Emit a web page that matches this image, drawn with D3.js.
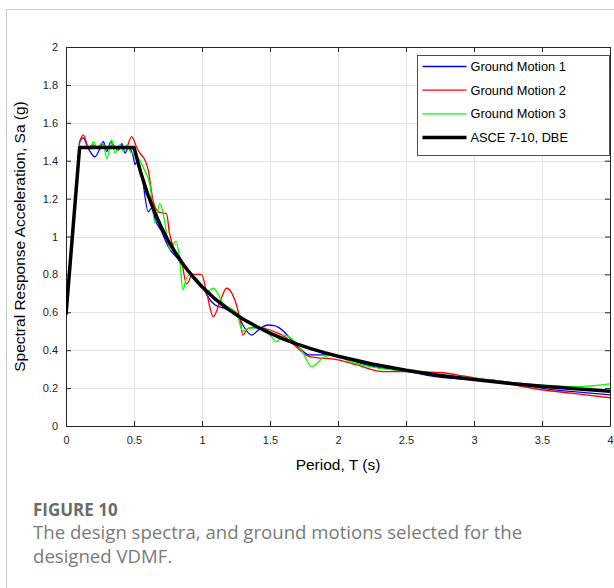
<!DOCTYPE html>
<html>
<head>
<meta charset="utf-8">
<script src="https://cdn.jsdelivr.net/npm/d3@7"></script>
<style>
  body { margin: 0; background: #fff; }
  svg { display: block; }
</style>
</head>
<body>
<script>
// values (period in s, Sa in g)
const gm1Period = [0, 0.1, 0.127, 0.164, 0.213, 0.25, 0.275, 0.3, 0.33, 0.348, 0.385, 0.41, 0.434, 0.46, 0.495, 0.507, 0.525, 0.556, 0.605, 0.63, 0.66, 0.7, 0.74, 0.765, 0.8, 0.85, 0.9, 0.95, 1.0, 1.06, 1.095, 1.15, 1.2, 1.255, 1.3, 1.365, 1.42, 1.485, 1.53, 1.6, 1.65, 1.72, 1.79, 1.92, 2.0, 2.15, 2.33, 2.5, 2.7, 2.87, 3.12, 3.3, 3.51, 3.75, 4.0];
const gm1Sa = [0.59, 1.5, 1.52, 1.465, 1.42, 1.465, 1.5, 1.448, 1.5, 1.483, 1.456, 1.49, 1.44, 1.47, 1.42, 1.38, 1.4, 1.33, 1.13, 1.15, 1.08, 1.03, 0.964, 0.93, 0.9, 0.86, 0.82, 0.78, 0.74, 0.665, 0.64, 0.625, 0.61, 0.595, 0.533, 0.48, 0.51, 0.533, 0.53, 0.5, 0.46, 0.41, 0.375, 0.375, 0.37, 0.335, 0.304, 0.29, 0.262, 0.25, 0.243, 0.225, 0.199, 0.18, 0.164];

const gm2Period = [0, 0.1, 0.127, 0.164, 0.2, 0.237, 0.26, 0.3, 0.33, 0.37, 0.4, 0.44, 0.483, 0.52, 0.544, 0.58, 0.605, 0.64, 0.68, 0.71, 0.74, 0.76, 0.79, 0.85, 0.887, 0.93, 0.985, 1.0, 1.035, 1.083, 1.13, 1.18, 1.22, 1.28, 1.3, 1.34, 1.4, 1.525, 1.62, 1.65, 1.72, 1.79, 2.01, 2.14, 2.33, 2.5, 2.77, 2.92, 3.17, 3.51, 3.73, 4.0];
const gm2Sa = [0.59, 1.5, 1.536, 1.474, 1.483, 1.465, 1.49, 1.47, 1.48, 1.47, 1.48, 1.465, 1.527, 1.47, 1.44, 1.404, 1.35, 1.19, 1.13, 1.125, 1.12, 1.02, 0.946, 0.867, 0.75, 0.8, 0.8, 0.797, 0.7, 0.577, 0.65, 0.727, 0.7, 0.56, 0.48, 0.515, 0.52, 0.5, 0.465, 0.445, 0.4, 0.366, 0.348, 0.322, 0.287, 0.287, 0.281, 0.264, 0.234, 0.19, 0.172, 0.149];

const gm3Period = [0, 0.1, 0.127, 0.15, 0.18, 0.2, 0.23, 0.26, 0.275, 0.3, 0.336, 0.36, 0.397, 0.422, 0.446, 0.47, 0.507, 0.544, 0.57, 0.618, 0.654, 0.69, 0.72, 0.765, 0.81, 0.835, 0.86, 0.885, 0.91, 0.96, 1.0, 1.04, 1.083, 1.157, 1.255, 1.3, 1.35, 1.43, 1.5, 1.55, 1.6, 1.67, 1.74, 1.806, 1.89, 1.97, 2.09, 2.31, 2.46, 2.7, 3.0, 3.25, 3.51, 3.755, 4.0];
const gm3Sa = [0.59, 1.48, 1.47, 1.48, 1.47, 1.5, 1.47, 1.49, 1.49, 1.41, 1.51, 1.44, 1.483, 1.45, 1.483, 1.45, 1.43, 1.4, 1.36, 1.27, 1.07, 1.175, 1.1, 0.93, 0.975, 0.88, 0.718, 0.78, 0.797, 0.78, 0.74, 0.71, 0.727, 0.647, 0.595, 0.5, 0.517, 0.517, 0.48, 0.445, 0.48, 0.454, 0.39, 0.313, 0.36, 0.375, 0.34, 0.304, 0.292, 0.27, 0.252, 0.232, 0.216, 0.207, 0.222];

const dbePeriod = [0, 0.1, 0.5, 0.55, 0.6, 0.65, 0.7, 0.75, 0.8, 0.85, 0.9, 0.95, 1.0, 1.1, 1.2, 1.3, 1.4, 1.5, 1.6, 1.7, 1.8, 1.9, 2.0, 2.25, 2.5, 2.75, 3.0, 3.25, 3.5, 3.75, 4.0];
const dbeSa = [0.588, 1.47, 1.47, 1.336, 1.225, 1.131, 1.05, 0.98, 0.919, 0.865, 0.817, 0.774, 0.735, 0.668, 0.613, 0.565, 0.525, 0.49, 0.459, 0.432, 0.408, 0.387, 0.368, 0.327, 0.294, 0.267, 0.245, 0.226, 0.21, 0.196, 0.184];

const seriesNames = ["Ground Motion 1", "Ground Motion 2", "Ground Motion 3", "ASCE 7-10, DBE"];
const seriesColors = ["#0000ff", "#ff0000", "#00ff00", "#000000"];
const xTicks = [0, 0.5, 1, 1.5, 2, 2.5, 3, 3.5, 4];
const yTicks = [0, 0.2, 0.4, 0.6, 0.8, 1, 1.2, 1.4, 1.6, 1.8, 2];

const series = [
  { period: gm1Period, sa: gm1Sa, width: 1.3, smooth: true },
  { period: gm2Period, sa: gm2Sa, width: 1.3, smooth: true },
  { period: gm3Period, sa: gm3Sa, width: 1.3, smooth: true },
  { period: dbePeriod, sa: dbeSa, width: 3.5, smooth: false },
];

const W = 614, H = 588;
const plot = { left: 66, right: 610, top: 47, bottom: 426 };
const axisColor = "#262626";
const font = "'Liberation Sans', Arial, sans-serif";
const captionFont = "'Open Sans', 'Noto Sans', sans-serif";

const svg = d3.select("body").append("svg").attr("width", W).attr("height", H);

// card border (top + left)
svg.append("path")
  .attr("d", `M6.5,${H} V9.5 H${W}`)
  .attr("fill", "none")
  .attr("stroke", "#c8c8c8")
  .attr("stroke-width", 1);

const x = d3.scaleLinear().domain([0, 4]).range([plot.left, plot.right]);
const y = d3.scaleLinear().domain([0, 2]).range([plot.bottom, plot.top]);

const grid = svg.append("g").attr("stroke", "#e3e3e3").attr("stroke-width", 1);
grid.selectAll("line.gx").data(xTicks.slice(1, -1)).enter().append("line")
  .attr("x1", (d) => Math.round(x(d)) + 0.5).attr("x2", (d) => Math.round(x(d)) + 0.5)
  .attr("y1", plot.top).attr("y2", plot.bottom);
grid.selectAll("line.gy").data(yTicks.slice(1, -1)).enter().append("line")
  .attr("y1", (d) => Math.round(y(d)) + 0.5).attr("y2", (d) => Math.round(y(d)) + 0.5)
  .attr("x1", plot.left).attr("x2", plot.right);

// axes, MATLAB style ticks inward on all four sides
const xAxisB = d3.axisBottom(x).tickValues(xTicks).tickSizeInner(-5).tickSizeOuter(0).tickPadding(10).tickFormat(d3.format("~g"));
const xAxisT = d3.axisTop(x).tickValues(xTicks).tickSizeInner(-5).tickSizeOuter(0).tickFormat("");
const yAxisL = d3.axisLeft(y).tickValues(yTicks).tickSizeInner(-5).tickSizeOuter(0).tickPadding(8).tickFormat(d3.format("~g"));
const yAxisR = d3.axisRight(y).tickValues(yTicks).tickSizeInner(-5).tickSizeOuter(0).tickFormat("");

const axes = svg.append("g");
axes.append("g").attr("transform", `translate(0,${plot.bottom})`).call(xAxisB);
axes.append("g").attr("transform", `translate(0,${plot.top})`).call(xAxisT);
axes.append("g").attr("transform", `translate(${plot.left},0)`).call(yAxisL);
axes.append("g").attr("transform", `translate(${plot.right},0)`).call(yAxisR);
axes.selectAll("path.domain").attr("stroke", axisColor).attr("stroke-width", 1);
axes.selectAll(".tick line").attr("stroke", axisColor);
axes.selectAll("text")
  .attr("font-family", font)
  .attr("font-size", 11)
  .attr("fill", axisColor);

// lines
svg.append("clipPath").attr("id", "clip").append("rect")
  .attr("x", plot.left).attr("y", plot.top)
  .attr("width", plot.right - plot.left).attr("height", plot.bottom - plot.top);

const linearLine = d3.line().x((p) => x(p[0])).y((p) => y(p[1]));
const smoothLine = d3.line().x((p) => x(p[0])).y((p) => y(p[1])).curve(d3.curveMonotoneX);

const pathFor = (d) => {
  const pts = d.period.map((p, i) => [p, d.sa[i]]);
  if (!d.smooth) return linearLine(pts);
  // straight ramp to the first point, smooth after that
  return `M${x(pts[0][0])},${y(pts[0][1])}L` + smoothLine(pts.slice(1)).slice(1);
};

svg.append("g").attr("clip-path", "url(#clip)")
  .selectAll("path")
  .data(series)
  .enter()
  .append("path")
  .attr("fill", "none")
  .attr("stroke", (d, i) => seriesColors[i])
  .attr("stroke-width", (d) => d.width)
  .attr("stroke-linejoin", "round")
  .attr("d", pathFor);

// legend
const legend = svg.append("g").attr("transform", "translate(417.5,55.5)");
legend.append("rect")
  .attr("width", 192).attr("height", 100)
  .attr("fill", "#fff")
  .attr("stroke", axisColor).attr("stroke-width", 0.8);
const items = legend.selectAll("g.item").data(seriesNames).enter().append("g")
  .attr("transform", (d, i) => `translate(0,${11 + i * 23.7})`);
items.append("line")
  .attr("x1", 5).attr("x2", 49)
  .attr("stroke", (d, i) => seriesColors[i])
  .attr("stroke-width", (d, i) => series[i].width);
items.append("text")
  .attr("x", 53).attr("dy", "0.35em")
  .attr("font-family", font).attr("font-size", 12.8)
  .attr("fill", "#000")
  .text((d) => d);

// axis titles
svg.append("text")
  .attr("x", (plot.left + plot.right) / 2).attr("y", 470)
  .attr("text-anchor", "middle")
  .attr("font-family", font).attr("font-size", 15.5)
  .attr("fill", "#000")
  .text("Period, T (s)");

svg.append("text")
  .attr("transform", `translate(25,${(plot.top + plot.bottom) / 2}) rotate(-90)`)
  .attr("text-anchor", "middle")
  .attr("font-family", font).attr("font-size", 15.5)
  .attr("fill", "#000")
  .text("Spectral Response Acceleration, Sa (g)");

// caption
svg.append("text")
  .attr("x", 33).attr("y", 516)
  .attr("font-family", captionFont)
  .attr("font-weight", 700).attr("font-size", 17)
  .attr("fill", "#6b6b6b")
  .text("FIGURE 10");
svg.append("text")
  .attr("font-family", captionFont)
  .attr("font-size", 18.6)
  .attr("fill", "#7a7a7a")
  .selectAll("tspan")
  .data(["The design spectra, and ground motions selected for the", "designed VDMF."])
  .enter().append("tspan")
  .attr("x", 33)
  .attr("y", (d, i) => 539 + i * 24)
  .text((d) => d);
</script>
</body>
</html>
